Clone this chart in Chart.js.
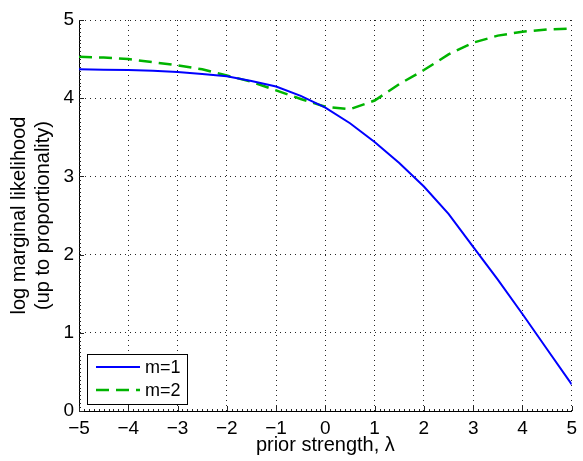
<!DOCTYPE html>
<html>
<head>
<meta charset="utf-8">
<script src="https://cdn.jsdelivr.net/npm/chart.js@4/dist/chart.umd.min.js"></script>
<style>
  html, body { margin: 0; padding: 0; background: #fff; }
  #wrap { width: 583px; height: 461px; }
</style>
</head>
<body>
<div id="wrap"><canvas id="mycanvas" width="583" height="461"></canvas></div>
<script>
// prior strength values (x)
var lambdas = [-5, -4.5, -4, -3.5, -3, -2.5, -2, -1.5, -1, -0.5, 0, 0.5, 1, 1.5, 2, 2.5, 3, 3.5, 4, 4.5, 5];
// log marginal likelihood, m=1 and m=2
var m1 = [4.37, 4.365, 4.36, 4.35, 4.335, 4.31, 4.28, 4.22, 4.15, 4.03, 3.88, 3.68, 3.44, 3.17, 2.87, 2.52, 2.1, 1.68, 1.24, 0.79, 0.34];
var m2 = [4.53, 4.52, 4.50, 4.46, 4.42, 4.37, 4.29, 4.21, 4.10, 3.99, 3.89, 3.86, 3.97, 4.18, 4.36, 4.56, 4.71, 4.80, 4.85, 4.88, 4.89];
var seriesNames = ['m=1', 'm=2'];
var xTicks = [-5, -4, -3, -2, -1, 0, 1, 2, 3, 4, 5];
var yTicks = [0, 1, 2, 3, 4, 5];

var FONT = "'Liberation Sans', Arial, Helvetica, sans-serif";

function pts(xs, ys) {
	var out = [];
	for (var i in xs) {
		out.push({x: xs[i], y: ys[i]});
	}
	return out;
}

function minus(v) {
	return String(v).replace('-', '\u2212');
}

// inward major + minor ticks, matlab style
var tickPlugin = {
	id: 'inTicks',
	afterDatasetsDraw: function(chart) {
		var ctx = chart.ctx;
		var xs = chart.scales.x, ys = chart.scales.y;
		var a = chart.chartArea;
		ctx.save();
		ctx.strokeStyle = '#222';
		ctx.lineWidth = 1;
		ctx.beginPath();
		for (var i = -50; i <= 50; i++) {
			var px = Math.round(xs.getPixelForValue(i / 10)) + 0.5;
			var len = (i % 10 === 0) ? 5 : 2;
			ctx.moveTo(px, a.bottom);
			ctx.lineTo(px, a.bottom - len);
		}
		for (var j = 0; j <= 100; j++) {
			var py = Math.round(ys.getPixelForValue(j / 20)) + 0.5;
			var l2 = (j % 20 === 0) ? 5 : 2;
			ctx.moveTo(a.left, py);
			ctx.lineTo(a.left + l2, py);
		}
		ctx.stroke();
		ctx.restore();
	}
};

// legend box in lower left of the axes
var legendPlugin = {
	id: 'boxLegend',
	afterDraw: function(chart) {
		var ctx = chart.ctx;
		var a = chart.chartArea;
		var bx = a.left + 8, by = a.bottom - 57, bw = 100, bh = 50;
		ctx.save();
		ctx.fillStyle = '#fff';
		ctx.fillRect(bx, by, bw, bh);
		ctx.strokeStyle = '#000';
		ctx.lineWidth = 1;
		ctx.strokeRect(bx + 0.5, by + 0.5, bw, bh);
		chart.data.datasets.forEach(function(ds, k) {
			var ly = by + 13 + k * 23;
			ctx.strokeStyle = ds.borderColor;
			ctx.lineWidth = ds.borderWidth;
			ctx.setLineDash(ds.borderDash || []);
			ctx.beginPath();
			ctx.moveTo(bx + 9, ly);
			ctx.lineTo(bx + 53, ly);
			ctx.stroke();
			ctx.setLineDash([]);
			ctx.fillStyle = '#000';
			ctx.font = '18px ' + FONT;
			ctx.textBaseline = 'middle';
			ctx.fillText(ds.label, bx + 58, ly + 1);
		});
		ctx.restore();
	}
};

var chartdata = {
	datasets: [
		{
			label: seriesNames[0],
			data: pts(lambdas, m1),
			borderColor: '#0000ff',
			borderWidth: 2,
			pointRadius: 0,
			tension: 0,
			fill: false
		},
		{
			label: seriesNames[1],
			data: pts(lambdas, m2),
			borderColor: '#00b400',
			borderWidth: 2.5,
			borderDash: [13, 7],
			pointRadius: 0,
			tension: 0,
			fill: false
		}
	]
};

var gridStyle = {
	color: 'rgba(0,0,0,0.85)',
	lineWidth: 1,
	drawTicks: false
};

var ctx = document.getElementById('mycanvas');

var lineGraph = new Chart(ctx, {
	type: 'line',
	data: chartdata,
	plugins: [tickPlugin, legendPlugin],
	options: {
		responsive: false,
		animation: false,
		events: [],
		layout: { padding: { left: 0, right: 8, top: 20, bottom: 0 } },
		plugins: {
			legend: { display: false },
			tooltip: { enabled: false }
		},
		scales: {
			x: {
				type: 'linear',
				min: -5,
				max: 5,
				afterBuildTicks: function(s) { s.ticks = xTicks.map(function(v) { return {value: v}; }); },
				afterFit: function(s) { s.height = 50; },
				grid: gridStyle,
				border: { display: true, color: '#000', width: 1, dash: [1, 4] },
				ticks: {
					color: '#000',
					padding: 6,
					maxRotation: 0,
					font: { family: FONT, size: 19 },
					callback: function(v) { return minus(v); }
				},
				title: {
					display: true,
					text: 'prior strength, \u03bb',
					color: '#000',
					padding: { top: 0, bottom: 4 },
					font: { family: FONT, size: 20 }
				}
			},
			y: {
				type: 'linear',
				min: 0,
				max: 5,
				afterBuildTicks: function(s) { s.ticks = yTicks.map(function(v) { return {value: v}; }); },
				afterFit: function(s) { s.width = 79; },
				grid: gridStyle,
				border: { display: true, color: '#000', width: 1, dash: [1, 4] },
				ticks: {
					color: '#000',
					padding: 5,
					font: { family: FONT, size: 19 },
					callback: function(v) { return minus(v); }
				},
				title: {
					display: true,
					text: ['log marginal likelihood', '(up to proportionality)'],
					color: '#000',
					padding: { top: 8, bottom: 0 },
					font: { family: FONT, size: 20, lineHeight: 1.17 }
				}
			}
		}
	}
});
</script>
</body>
</html>
